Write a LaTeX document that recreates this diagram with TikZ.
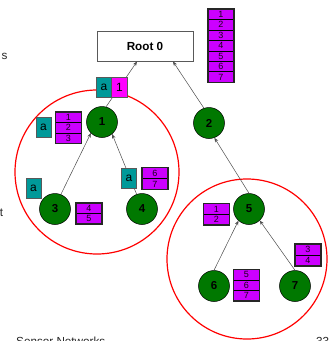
\documentclass[tikz,border=0pt]{standalone}
\usepackage{fontspec}
\setmainfont{Liberation Sans}
\usetikzlibrary{arrows.meta}
\definecolor{nodegreen}{RGB}{0,120,0}
\definecolor{stackviolet}{RGB}{204,0,255}
\definecolor{tealbox}{RGB}{0,153,153}
\definecolor{magbox}{RGB}{255,0,255}
% name, centre x, top y, cell height, count, list
\newcommand{\cellstack}[6]{%
  \foreach \t [count=\i] in {#6}{%
    \node[cell, minimum height=#4pt] (#1-\i) at (#2,{#3+#4*\i-#4/2}) {\t};
  }
  \draw[frame] ({#2-13},#3) rectangle ({#2+13},{#3+#4*#5});
}
\begin{document}
\begin{tikzpicture}[x=1pt,y=-1pt,
  sensor/.style={circle, draw=black, line width=0.5pt, fill=nodegreen,
    minimum size=31pt, inner sep=0pt, font=\fontsize{11.5}{11.5}\selectfont\bfseries},
  cell/.style={rectangle, draw=black, line width=0.6pt, fill=stackviolet,
    minimum width=26pt, inner sep=0pt, font=\fontsize{9}{9}\selectfont, text=black!80!violet},
  frame/.style={draw=black!85, line width=1.3pt},
  abox/.style={rectangle, draw=black!65, line width=0.8pt, fill=tealbox,
    minimum width=15pt, minimum height=20pt, inner sep=0pt, font=\fontsize{12}{12}\selectfont},
  mbox/.style={abox, fill=magbox, minimum width=16pt},
  cluster/.style={draw=red, line width=1.2pt},
  link/.style={draw=black!70, line width=0.5pt, -{Stealth[length=4.5pt,width=3.5pt]}},
  slidetext/.style={inner sep=0pt, font=\fontsize{11.7}{11.7}\selectfont, text=black!85}
]
\clip (0,0) rectangle (331,341);
% clusters
\draw[cluster] (97,172) circle (82);
\draw[cluster] (247,259) circle (80);
% root and sensors
\node[rectangle, draw=black!65, line width=0.8pt, fill=white, minimum width=96pt,
  minimum height=30pt, inner sep=0pt, font=\fontsize{11.7}{11.7}\selectfont\bfseries]
  (n0) at (145,46) {Root 0};
\coordinate (r1) at (137,61.5);
\coordinate (r2) at (173,61.5);
\node[sensor] (n1) at (102,122) {1};
\node[sensor] (n2) at (209,123) {2};
\node[sensor] (n3) at (55,209) {3};
\node[sensor] (n4) at (142,209) {4};
\node[sensor] (n5) at (249,209) {5};
\node[sensor] (n6) at (214,286) {6};
\node[sensor] (n7) at (295,286) {7};
% links
\draw[link] (n1.75) -- (r1);
\draw[link] (n2.109) -- (r2);
\draw[link] (n3.68) -- (n1.225);
\draw[link] (n4.110) -- (n1.-50);
\draw[link] (n5.90) -- (n2.-70);
\draw[link] (n6.90) -- (n5.228);
\draw[link] (n7.90) -- (n5.-47);
% aggregate boxes
\node[abox] (a0) at (104,87) {a};
\node[mbox] (m0) at (119.5,87) {1};
\node[abox] (a1) at (43.5,127) {a};
\node[abox] (a3) at (33.5,188.5) {a};
\node[abox] (a4) at (129,178.5) {a};
% stacks
\cellstack{sr}{221}{9}{10.45}{7}{1,2,3,4,5,6,7}
\cellstack{s1}{68.5}{112}{10.4}{3}{1,2,3}
\cellstack{s3}{89}{203}{10.5}{2}{4,5}
\cellstack{s4}{155}{167.5}{11}{2}{6,7}
\cellstack{s5}{216.5}{203.5}{10.8}{2}{1,2}
\cellstack{s7}{308}{244}{11}{2}{3,4}
\cellstack{s6}{246.5}{269.5}{10.5}{3}{5,6,7}
% slide text fragments (cut by the page edge as in the reference)
\node[slidetext, anchor=base west] (ts) at (1.5,59) {s};
\node[slidetext, anchor=base west] (tt) at (-0.3,216.5) {t};
\node[slidetext, anchor=base west] (tf) at (16,345.5) {Sensor Networks};
\node[slidetext, anchor=base west] (tn) at (316,345.5) {33};
\end{tikzpicture}
\end{document}
